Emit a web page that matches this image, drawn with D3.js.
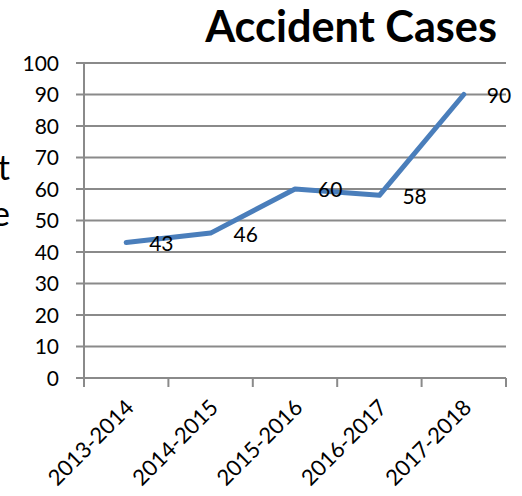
<!DOCTYPE html>
<html lang="en">
<head>
    <meta charset="UTF-8">
    <script src="https://cdn.jsdelivr.net/npm/d3@7"></script>
    <title>Accident Cases</title>
    <style>
        body { margin: 0; background: white; }
        text { font-family: Lato, "Open Sans", sans-serif; fill: #000; }
    </style>
</head>
<body>
    <div class="fig1"></div>
    <script>
        const years = ["2013-2014", "2014-2015", "2015-2016", "2016-2017", "2017-2018"];
        const cases = [43, 46, 60, 58, 90];
        const yTicks = [0, 10, 20, 30, 40, 50, 60, 70, 80, 90, 100];
        const titleText = "Accident Cases";
        const yTitleLines = ["No. of Accident", "Case"];

        const width = 522, height = 496;
        const margin = { left: 84, right: 16, top: 63, bottom: 118 };

        const svg = d3.select(".fig1").append("svg")
            .attr("width", width)
            .attr("height", height);

        const x = d3.scaleBand()
            .domain(years)
            .range([margin.left, width - margin.right]);

        const y = d3.scaleLinear()
            .domain([0, 100])
            .range([height - margin.bottom, margin.top]);

        // gridlines
        svg.append("g")
            .selectAll("line")
            .data(yTicks)
            .enter()
            .append("line")
            .attr("x1", margin.left - 8)
            .attr("x2", width - margin.right)
            .attr("y1", d => y(d))
            .attr("y2", d => y(d))
            .attr("stroke", "#8a8a8a")
            .attr("stroke-width", 2);

        // y axis line
        svg.append("line")
            .attr("x1", margin.left).attr("x2", margin.left)
            .attr("y1", y(100)).attr("y2", y(0) + 9)
            .attr("stroke", "#8a8a8a")
            .attr("stroke-width", 2);

        // x ticks at band edges
        const edges = years.map(d => x(d)).concat([x(years[years.length - 1]) + x.bandwidth()]);
        svg.append("g")
            .selectAll("line")
            .data(edges)
            .enter()
            .append("line")
            .attr("x1", d => d).attr("x2", d => d)
            .attr("y1", y(0)).attr("y2", y(0) + 9)
            .attr("stroke", "#8a8a8a")
            .attr("stroke-width", 2);

        // y tick labels
        svg.append("g")
            .selectAll("text")
            .data(yTicks)
            .enter()
            .append("text")
            .attr("x", margin.left - 25)
            .attr("y", d => y(d))
            .attr("dy", "0.36em")
            .attr("text-anchor", "end")
            .style("font-size", "21px")
            .text(d => d);

        // x tick labels
        svg.append("g")
            .selectAll("text")
            .data(years)
            .enter()
            .append("text")
            .attr("text-anchor", "end")
            .attr("transform", d => `translate(${x(d) + x.bandwidth() / 2 + 9},${y(0) + 31}) rotate(-45)`)
            .style("font-size", "22px")
            .text(d => d);

        // line
        const line = d3.line()
            .x((d, i) => x(years[i]) + x.bandwidth() / 2)
            .y(d => y(d));

        svg.append("path")
            .datum(cases)
            .attr("d", line)
            .attr("fill", "none")
            .attr("stroke", "#4a7ebb")
            .attr("stroke-width", 5)
            .attr("stroke-linecap", "round")
            .attr("stroke-linejoin", "round");

        // data labels
        svg.append("g")
            .selectAll("text")
            .data(cases)
            .enter()
            .append("text")
            .attr("x", (d, i) => x(years[i]) + x.bandwidth() / 2 + 23)
            .attr("y", d => y(d))
            .attr("dy", "0.4em")
            .style("font-size", "21px")
            .text(d => d);

        // title
        const title = svg.append("text")
            .attr("x", 497)
            .attr("y", 42)
            .attr("text-anchor", "end")
            .style("font-size", "40px")
            .style("font-weight", "bold")
            .text(titleText);
        const tw = title.node().getComputedTextLength();
        title.style("font-size", (40 * 292 / tw) + "px");

        // y axis title, cut off at the left edge as in the original
        svg.append("g")
            .selectAll("text")
            .data(yTitleLines)
            .enter()
            .append("text")
            .attr("x", 10)
            .attr("y", (d, i) => 180 + i * 46)
            .attr("text-anchor", "end")
            .style("font-size", "34px")
            .text(d => d);
    </script>
</body>
</html>
